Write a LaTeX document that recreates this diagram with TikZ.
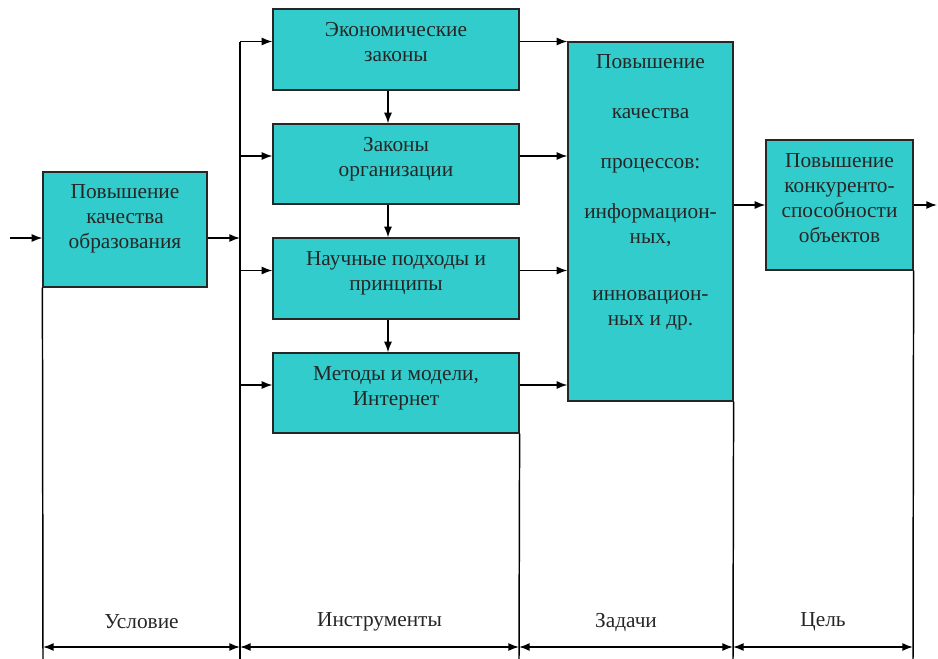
\documentclass[tikz,border=0pt]{standalone}
\usepackage{fontspec}
\setmainfont{LiberationSerif-Regular.ttf}
\usepackage{xcolor}
\usepackage{tikz}
\usetikzlibrary{arrows.meta}
\definecolor{boxfill}{RGB}{51,204,204}

\begin{document}
\begin{tikzpicture}[x=0.75pt,y=-0.75pt,
   blk/.style n args={3}{draw=black!85,fill=boxfill,line width=0.9pt,inner sep=0pt,minimum width=#1*0.75pt,minimum height=#2*0.75pt,text depth=#3,align=center,text=black!85,font=\fontsize{16}{18.75}\selectfont},
   con/.style={line width=1.1pt,-{Latex[length=8pt,width=6pt]}},
   rule/.style={line width=1.1pt},
   dim/.style={line width=1.1pt,{Latex[length=8pt,width=6pt]}-{Latex[length=8pt,width=6pt]}},
   lbl/.style={font=\fontsize{16}{18.75}\selectfont,text=black!85,inner sep=0pt}]
\useasboundingbox (0,0) rectangle (938,659);
\node[blk={164}{115}{19.1pt}] (edu) at (125,229.5) {Повышение\\качества\\образования};
\node[blk={246}{81}{10.8pt}] (m1) at (396,49.5) {Экономические\\законы};
\node[blk={246}{80}{10.8pt}] (m2) at (396,164) {Законы\\организации};
\node[blk={246}{81}{10.8pt}] (m3) at (396,278.5) {Научные подходы и\\принципы};
\node[blk={246}{80}{10.8pt}] (m4) at (396,393) {Методы и модели,\\Интернет};
\node[blk={165}{359}{47pt}] (tasks) at (650.5,221.5) {Повышение\\[19pt]качества\\[19pt]процессов:\\[18.75pt]информацион-\\ных,\\[24pt]инновацион-\\ных и др.};
\node[blk={147}{130}{10.8pt}] (goal) at (839.5,205) {Повышение\\конкуренто-\\способности\\объектов};
% input and bus
\coordinate (in) at (10,238);
\coordinate (bus) at (240,238);
\coordinate (bustop) at (240,42);
\coordinate (out) at (937,205);
\draw[con] (in) -- (edu.west |- in);
\draw[con] (edu.east |- in) -- (bus);
\foreach \i in {1,...,4} {
   \coordinate (a\i) at ([yshift=6pt]m\i.west);
   \draw[con] (bus |- a\i) -- (a\i);
   \draw[con] (m\i.east |- a\i) -- (tasks.west |- a\i);
}
\foreach \i/\j in {1/2,2/3,3/4} {
   \draw[con] ([xshift=-6pt]m\i.south) -- ([xshift=-6pt]m\j.north);
}
\draw[con] (tasks.east |- goal.west) -- (goal.west);
\draw[con] (goal.east) -- (out);
% bottom scale
\foreach \i/\x in {1/43,2/240,3/519,4/733,5/913} {
   \coordinate (t\i) at (\x,659);
}
\draw[rule] (edu.south west) -- (t1);
\draw[rule] (bustop) -- (t2);
\draw[rule] (m4.south east) -- (t3);
\draw[rule] (tasks.south east) -- (t4);
\draw[rule] (goal.south east) -- (t5);
\foreach \i/\j/\txt in %
{1/2/Условие,2/3/Инструменты,3/4/Задачи,4/5/Цель} {
   \draw[dim] ([yshift=9pt]t\i) -- ([yshift=9pt]t\j)
      node[lbl,midway,yshift=18.75pt] (span\i) {\txt};
}
\end{tikzpicture}
\end{document}
